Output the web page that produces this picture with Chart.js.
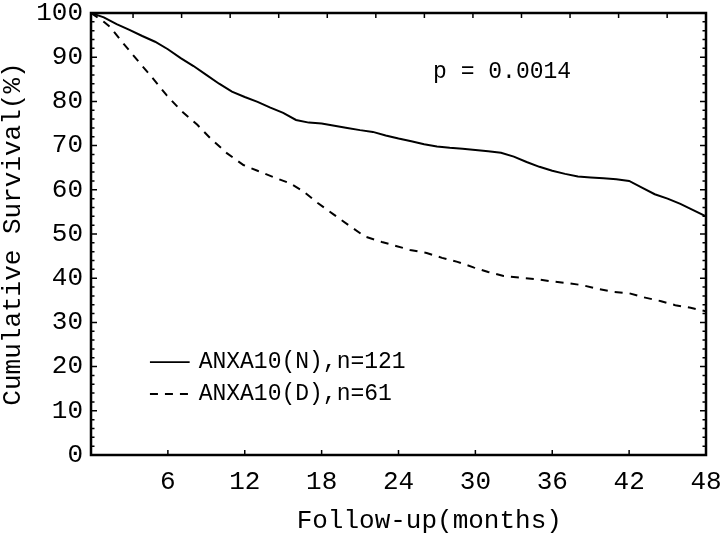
<!DOCTYPE html>
<html>
<head>
<meta charset="utf-8">
<script src="https://cdn.jsdelivr.net/npm/chart.js@4/dist/chart.umd.min.js"></script>
<style>
  html, body { margin: 0; padding: 0; background: #fff; }
  #wrap { width: 720px; height: 536px; }
</style>
</head>
<body>
<div id="wrap"><canvas id="km" width="720" height="536"></canvas></div>
<script>
// Kaplan-Meier curves
const normalMonths = [0, 1, 2, 3, 4, 5, 6, 7, 8, 9, 10, 11, 12, 13, 14, 15, 16, 17, 18, 19, 20,
  21, 22, 23, 24, 25, 26, 27, 28, 29, 30, 31, 32, 33, 34, 35, 36, 37, 38, 39, 40, 41, 42,
  43, 44, 45, 46, 47, 48];
const normalSurvival = [100, 99, 97.5, 96.2, 94.8, 93.5, 91.8, 89.8, 88, 86, 84, 82.2, 81, 79.9,
  78.6, 77.4, 75.8, 75.2, 75, 74.5, 74, 73.5, 73.1, 72.3, 71.6, 71, 70.3, 69.8, 69.5, 69.3,
  69, 68.7, 68.4, 67.5, 66.3, 65.2, 64.3, 63.6, 63, 62.8, 62.6, 62.4, 62, 60.5, 59, 58,
  56.8, 55.4, 54];

const decreasedMonths = [0, 1, 1.5, 2.5, 3.8, 4.6, 5.9, 7, 8.3, 9.3, 10.6, 11.9, 13, 14.2, 15.5,
  16.5, 17.7, 18.9, 20.1, 21.4, 22.7, 23.8, 24.9, 26.2, 27.4, 28.6, 29.9, 31, 32.2, 33.5,
  34.7, 35.9, 37.2, 38.4, 39.5, 40.8, 42, 43.1, 44.5, 45.6, 46.8, 48];
const decreasedSurvival = [100, 98, 96.8, 93.2, 88.7, 86, 81.4, 78, 74.7, 71.7, 68.3, 65.6, 64.3,
  62.9, 61.5, 59.8, 57, 54.5, 52, 49.4, 48.2, 47.3, 46.4, 45.7, 44.6, 43.7, 42.4, 41.4,
  40.5, 40.1, 39.8, 39.3, 38.9, 38.4, 37.6, 36.9, 36.6, 35.7, 34.8, 33.9, 33.3, 32.5];

const seriesLabels = ['ANXA10(N),n=121', 'ANXA10(D),n=61'];
const xTickValues = [6, 12, 18, 24, 30, 36, 42, 48];
const pValueText = 'p = 0.0014';
const xTitle = 'Follow-up(months)';
const yTitle = 'Cumulative Survival(%)';

const MONO = '"Liberation Mono", "DejaVu Sans Mono", monospace';

function toPoints(xs, ys) {
  return xs.map((x, i) => ({ x: x, y: ys[i] }));
}

// frame, inward tick marks, legend and annotation text
const framePlugin = {
  id: 'frame',
  afterDraw(chart) {
    const ctx = chart.ctx;
    const a = chart.chartArea;
    const xs = chart.scales.x;
    const ys = chart.scales.y;
    const top = chart.scales.xTop;
    ctx.save();
    ctx.strokeStyle = '#000';
    ctx.lineWidth = 1.5;
    ctx.beginPath();
    for (let v = 0; v <= 100; v += 2) {
      const y = ys.getPixelForValue(v);
      const len = v % 10 === 0 ? 6 : 3.5;
      ctx.moveTo(a.left, y); ctx.lineTo(a.left + len, y);
      ctx.moveTo(a.right, y); ctx.lineTo(a.right - len, y);
    }
    xs.ticks.forEach(t => {
      if (t.value <= 0 || t.value >= 48) return;
      const x = xs.getPixelForValue(t.value);
      ctx.moveTo(x, a.bottom); ctx.lineTo(x, a.bottom - 5);
    });
    top.ticks.forEach(t => {
      const x = top.getPixelForValue(t.value);
      if (x <= a.left + 2 || x >= a.right - 2) return;
      ctx.moveTo(x, a.top); ctx.lineTo(x, a.top + 5);
    });
    ctx.stroke();

    ctx.lineWidth = 2.5;
    ctx.strokeRect(a.left, a.top, a.right - a.left, a.bottom - a.top);

    // legend inside plot
    ctx.fillStyle = '#000';
    ctx.font = '23px ' + MONO;
    ctx.textBaseline = 'middle';
    ctx.textAlign = 'left';
    const rows = [21, 13.8];
    chart.data.datasets.forEach((ds, i) => {
      const y = ys.getPixelForValue(rows[i]);
      ctx.lineWidth = 1.8;
      ctx.setLineDash(ds.borderDash || []);
      ctx.beginPath();
      ctx.moveTo(xs.getPixelForValue(4.6), y);
      ctx.lineTo(xs.getPixelForValue(7.7), y);
      ctx.stroke();
      ctx.setLineDash([]);
      ctx.fillText(ds.label, xs.getPixelForValue(8.4), y);
    });

    ctx.fillText(pValueText, xs.getPixelForValue(26.7), ys.getPixelForValue(86.6));

    ctx.font = '26px ' + MONO;
    ctx.textAlign = 'center';
    ctx.fillText(xTitle, xs.getPixelForValue(26.4), chart.height - 15);
    ctx.restore();
  }
};

new Chart(document.getElementById('km'), {
  type: 'line',
  data: {
    datasets: [
      {
        label: seriesLabels[0],
        data: toPoints(normalMonths, normalSurvival),
        borderColor: '#000',
        borderWidth: 2,
        pointRadius: 0,
        tension: 0,
        fill: false
      },
      {
        label: seriesLabels[1],
        data: toPoints(decreasedMonths, decreasedSurvival),
        borderColor: '#000',
        borderWidth: 2,
        borderDash: [8, 7],
        pointRadius: 0,
        tension: 0,
        fill: false
      }
    ]
  },
  options: {
    responsive: false,
    animation: false,
    devicePixelRatio: 1,
    layout: { padding: { top: 13, right: 14, left: 0, bottom: 0 } },
    plugins: { legend: { display: false }, tooltip: { enabled: false } },
    scales: {
      x: {
        type: 'linear',
        min: 0,
        max: 48,
        afterBuildTicks: s => { s.ticks = xTickValues.map(v => ({ value: v })); },
        afterFit: s => { s.height = 81; s.paddingLeft = 0; s.paddingRight = 0; },
        grid: { display: false, drawTicks: false },
        border: { display: false },
        ticks: { padding: 12, color: '#000', font: { family: MONO, size: 26 } }
      },
      xTop: {
        type: 'linear',
        position: 'top',
        min: -0.866,
        max: 11.8,
        afterBuildTicks: s => {
          const t = [];
          for (let i = 0; i <= 11; i++) t.push({ value: i });
          s.ticks = t;
        },
        afterFit: s => { s.height = 0; s.paddingLeft = 0; s.paddingRight = 0; },
        grid: { display: false, drawTicks: false },
        border: { display: false },
        ticks: { display: false }
      },
      y: {
        min: 0,
        max: 100,
        afterFit: s => { s.width = 91; s.paddingTop = 0; s.paddingBottom = 0; },
        grid: { display: false, drawTicks: false },
        border: { display: false },
        ticks: { stepSize: 10, padding: 8, color: '#000', font: { family: MONO, size: 26 } },
        title: {
          display: true,
          text: yTitle,
          color: '#000',
          padding: 0,
          font: { family: MONO, size: 26, lineHeight: 1 }
        }
      }
    }
  },
  plugins: [framePlugin]
});
</script>
</body>
</html>
